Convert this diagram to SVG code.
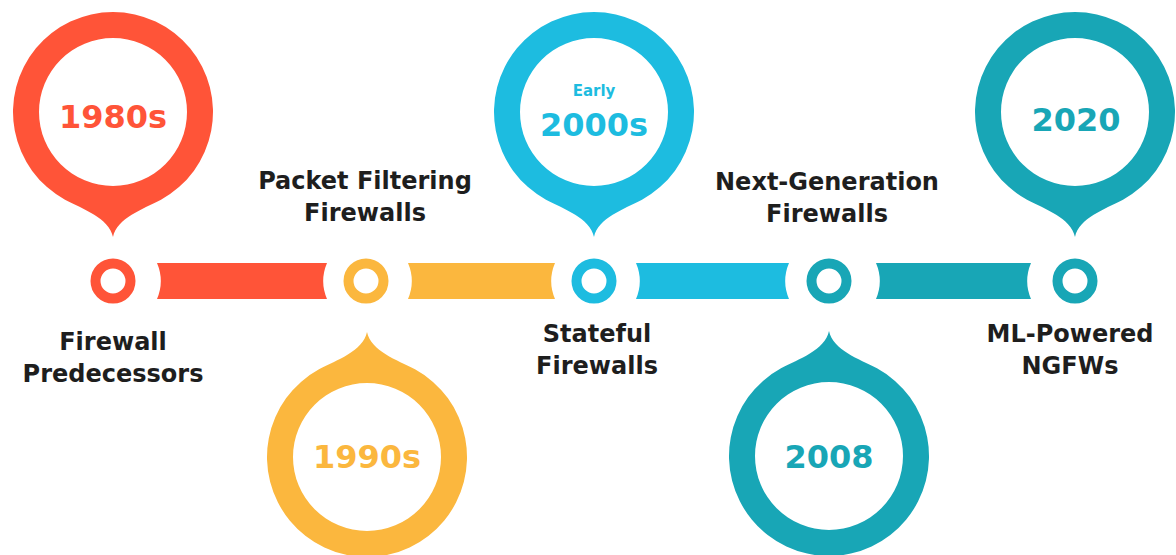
<svg xmlns="http://www.w3.org/2000/svg" width="1176" height="555" viewBox="0 0 1176 555">
  <style>
    .lbl { font-family: "DejaVu Sans", "Liberation Sans", sans-serif; font-weight: bold; font-size: 24px; fill: #1e1e1e; text-anchor: middle; }
    .yr { font-family: "DejaVu Sans", "Liberation Sans", sans-serif; font-weight: bold; font-size: 32px; text-anchor: middle; }
    .sm { font-family: "DejaVu Sans", "Liberation Sans", sans-serif; font-weight: bold; font-size: 15px; text-anchor: middle; }
    .dot { fill: #ffffff; stroke-width: 10; }
    .red { fill: #ff5438; }
    .yel { fill: #fbb73e; }
    .lbl2 { fill: #1dbce0; }
    .teal { fill: #18a6b6; }
  </style>
  <defs>
    <path id="pin" fill-rule="evenodd" d="M48 87.7 A100 100 0 1 0 -48 87.7 C-30 97 -4 106 0 125 C4 106 30 97 48 87.7 Z M74 0 A74 74 0 1 0 -74 0 A74 74 0 1 0 74 0 Z"/>
  </defs>
  <rect width="1176" height="555" fill="#ffffff"/>

  <g id="connectors">
    <path class="red" d="M157 263 L327 263 A46 46 0 0 0 327 299 L157 299 A46 46 0 0 0 157 263 Z"/>
    <path class="yel" d="M408 263 L555 263 A46 46 0 0 0 555 299 L408 299 A46 46 0 0 0 408 263 Z"/>
    <path class="lbl2" d="M636 263 L789 263 A46 46 0 0 0 789 299 L636 299 A46 46 0 0 0 636 263 Z"/>
    <path class="teal" d="M876 263 L1031 263 A46 46 0 0 0 1031 299 L876 299 A46 46 0 0 0 876 263 Z"/>
  </g>

  <g id="node-1980s">
    <use href="#pin" transform="translate(113,112)" fill="#ff5438"/>
    <text class="yr" x="113" y="128" fill="#ff5438">1980s</text>
    <circle class="dot" cx="113" cy="281" r="17.5" stroke="#ff5438"/>
    <text class="lbl" x="113" y="350">Firewall</text>
    <text class="lbl" x="113" y="382">Predecessors</text>
  </g>

  <g id="node-1990s">
    <use href="#pin" transform="translate(367,457) rotate(180)" fill="#fbb73e"/>
    <text class="yr" x="367" y="468" fill="#fbb73e">1990s</text>
    <circle class="dot" cx="366" cy="281" r="17.5" stroke="#fbb73e"/>
    <text class="lbl" x="365" y="189">Packet Filtering</text>
    <text class="lbl" x="365" y="221">Firewalls</text>
  </g>

  <g id="node-2000s">
    <use href="#pin" transform="translate(594,112)" fill="#1dbce0"/>
    <text class="sm" x="594" y="96" fill="#1dbce0">Early</text>
    <text class="yr" x="594" y="136" fill="#1dbce0">2000s</text>
    <circle class="dot" cx="594" cy="281" r="17.5" stroke="#1dbce0"/>
    <text class="lbl" x="597" y="342">Stateful</text>
    <text class="lbl" x="597" y="374">Firewalls</text>
  </g>

  <g id="node-2008">
    <use href="#pin" transform="translate(829,456) rotate(180)" fill="#18a6b6"/>
    <text class="yr" x="829" y="468" fill="#18a6b6">2008</text>
    <circle class="dot" cx="829" cy="281" r="17.5" stroke="#18a6b6"/>
    <text class="lbl" x="827" y="190">Next-Generation</text>
    <text class="lbl" x="827" y="222">Firewalls</text>
  </g>

  <g id="node-2020">
    <use href="#pin" transform="translate(1075,112)" fill="#18a6b6"/>
    <text class="yr" x="1076" y="131" fill="#18a6b6">2020</text>
    <circle class="dot" cx="1075" cy="281" r="17.5" stroke="#18a6b6"/>
    <text class="lbl" x="1070" y="342">ML-Powered</text>
    <text class="lbl" x="1070" y="374">NGFWs</text>
  </g>
</svg>
